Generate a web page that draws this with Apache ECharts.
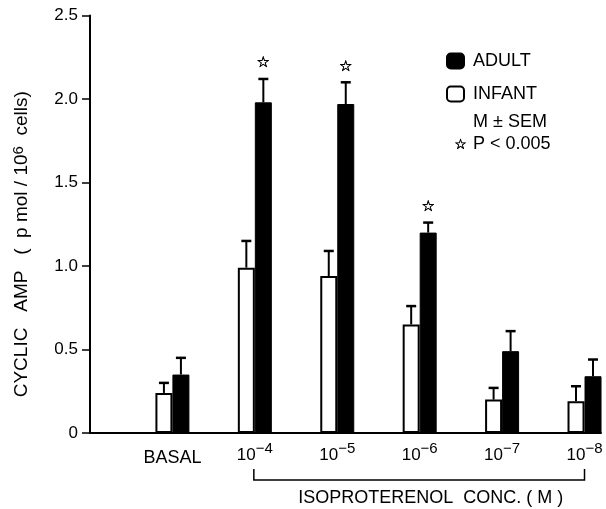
<!DOCTYPE html>
<html>
<head>
<meta charset="utf-8">
<script src="https://cdn.jsdelivr.net/npm/echarts@6/dist/echarts.min.js"></script>
<style>html,body{margin:0;padding:0;background:#fff;}#c{width:606px;height:509px;}</style>
</head>
<body>
<div id="c"></div>
<script>
// ---- data ----
var categories = ['BASAL', '10|-4', '10|-5', '10|-6', '10|-7', '10|-8'];
var categoryPos = [1, 2, 3, 4, 5, 6];
var infantMean = [0.24, 0.99, 0.94, 0.65, 0.20, 0.19];
var infantSem  = [0.06, 0.16, 0.15, 0.11, 0.07, 0.09];
var adultMean  = [0.35, 1.98, 1.97, 1.20, 0.49, 0.34];
var adultSem   = [0.10, 0.14, 0.13, 0.06, 0.12, 0.10];
var adultSignificant = [0, 1, 1, 1, 0, 0];
var yTicks = [0, 0.5, 1.0, 1.5, 2.0, 2.5];
var bracketRange = [2, 6];

var FONT = 'Liberation Sans';
var BAR_W = 17;

function pairs(vals) { return categoryPos.map(function (p, i) { return [p, vals[i]]; }); }
function triples(vals, errs) { return categoryPos.map(function (p, i) { return [p, vals[i], errs[i]]; }); }

function errRender(offset) {
  return function (params, api) {
    var x = api.value(0), m = api.value(1), e = api.value(2);
    var b = api.coord([x, m]);
    var t = api.coord([x, m + e]);
    var cx = b[0] + offset;
    return {
      type: 'group',
      children: [
        { type: 'line', shape: { x1: cx, y1: b[1], x2: cx, y2: t[1] }, style: { stroke: '#000', lineWidth: 2 } },
        { type: 'line', shape: { x1: cx - 5, y1: t[1], x2: cx + 5, y2: t[1] }, style: { stroke: '#000', lineWidth: 2.5 } }
      ]
    };
  };
}

var chart = echarts.init(document.getElementById('c'), null, { renderer: 'canvas' });
chart.setOption({
  animation: false,
  backgroundColor: '#fff',
  grid: { left: 90, right: 5, top: 15.5, bottom: 76, containLabel: false },
  legend: {
    data: ['ADULT', 'INFANT'],
    orient: 'vertical',
    left: 441, top: 47,
    itemWidth: 17, itemHeight: 15, itemGap: 15,
    icon: 'roundRect',
    selectedMode: false,
    textStyle: { fontFamily: FONT, fontSize: 18, color: '#000', padding: [0, 0, 0, 4] }
  },
  xAxis: {
    type: 'value', min: 0, max: 6.2, interval: 1,
    splitLine: { show: false },
    axisTick: { show: false },
    axisLine: { lineStyle: { color: '#000', width: 2 } },
    axisLabel: {
      margin: 8,
      color: '#000',
      fontFamily: FONT,
      fontSize: 17,
      formatter: function (v) {
        var i = categoryPos.indexOf(v);
        if (i < 0) return '';
        var c = categories[i];
        if (c.indexOf('|') < 0) return '{b|' + c + '}';
        var parts = c.split('|');
        return '{n|' + parts[0] + '}{s|' + parts[1].replace('-', '\u2212') + '}';
      },
      rich: {
        b: { fontFamily: FONT, fontSize: 18, color: '#000', padding: [8, 0, 0, 0] },
        n: { fontFamily: FONT, fontSize: 17, color: '#000', padding: [6, 0, 0, 0] },
        s: { fontFamily: FONT, fontSize: 15, color: '#000', verticalAlign: 'top', padding: [0, 0, 8, 0] }
      }
    }
  },
  yAxis: {
    type: 'value', min: 0, max: 2.5, interval: 0.5,
    splitLine: { show: false },
    axisLine: { show: true, lineStyle: { color: '#000', width: 2 } },
    axisTick: { show: true, length: 8, lineStyle: { color: '#000', width: 1.5 } },
    axisLabel: {
      margin: 12, color: '#000', fontFamily: FONT, fontSize: 17,
      formatter: function (v) { return v === 0 ? '0' : v.toFixed(1); }
    },
    name: '{t|CYCLIC   AMP   (  p mol / 10}{s|6}{t|  cells)}',
    nameLocation: 'middle',
    nameRotate: 90,
    nameGap: 58,
    nameTextStyle: {
      padding: [0, 40, 0, 0],
      rich: {
        t: { fontFamily: FONT, fontSize: 19, color: '#000' },
        s: { fontFamily: FONT, fontSize: 15, color: '#000', verticalAlign: 'top', padding: [0, 0, 6, 0] }
      }
    }
  },
  graphic: [
    { type: 'text', left: 473, top: 113, style: { text: 'M \u00b1 SEM', fontFamily: FONT, fontSize: 18, fill: '#000' } },
    { type: 'text', left: 454, top: 138, style: { text: '\u2606', fontFamily: 'DejaVu Sans', fontSize: 14, fill: '#000', stroke: '#000', lineWidth: 0.5 } },
    { type: 'text', left: 473, top: 135, style: { text: 'P < 0.005', fontFamily: FONT, fontSize: 18, fill: '#000' } }
  ],
  series: [
    {
      name: 'INFANT', type: 'bar', barWidth: BAR_W, barGap: '0%',
      data: pairs(infantMean),
      itemStyle: { color: '#fff', borderColor: '#000', borderWidth: 2 },
      z: 3
    },
    {
      name: 'ADULT', type: 'bar', barWidth: BAR_W, barGap: '0%',
      data: pairs(adultMean),
      itemStyle: { color: '#000', borderColor: '#000', borderWidth: 1 },
      z: 3
    },
    {
      type: 'custom', name: 'infantErr', data: triples(infantMean, infantSem),
      renderItem: errRender(-BAR_W / 2), z: 4, silent: true
    },
    {
      type: 'custom', name: 'adultErr', data: triples(adultMean, adultSem),
      renderItem: errRender(BAR_W / 2), z: 4, silent: true
    },
    {
      type: 'custom', name: 'stars',
      data: categoryPos.map(function (p, i) { return [p, adultMean[i] + adultSem[i], adultSignificant[i]]; }),
      renderItem: function (params, api) {
        if (!api.value(2)) return null;
        var t = api.coord([api.value(0), api.value(1)]);
        return {
          type: 'text',
          style: { text: '\u2606', x: t[0] + BAR_W / 2, y: t[1] - 8, align: 'center', verticalAlign: 'bottom',
                   fontFamily: 'DejaVu Sans', fontSize: 15, fill: '#000', stroke: '#000', lineWidth: 0.5 }
        };
      },
      z: 4, silent: true
    },
    {
      type: 'custom', name: 'bracket', data: [[bracketRange[0], bracketRange[1]]],
      renderItem: function (params, api) {
        var a = api.coord([api.value(0), 0]);
        var b = api.coord([api.value(1), 0]);
        var y0 = a[1];
        return {
          type: 'group',
          children: [
            { type: 'polyline', shape: { points: [[a[0] - 1, y0 + 36], [a[0] - 1, y0 + 47], [b[0], y0 + 47], [b[0], y0 + 36]] },
              style: { stroke: '#000', lineWidth: 1.5, fill: null } },
            { type: 'text', style: { text: 'ISOPROTERENOL  CONC. ( M )', x: (a[0] + b[0]) / 2 + 11, y: y0 + 65,
              align: 'center', verticalAlign: 'middle', fontFamily: FONT, fontSize: 18, fill: '#000' } }
          ]
        };
      },
      silent: true
    }
  ]
});
</script>
</body>
</html>
